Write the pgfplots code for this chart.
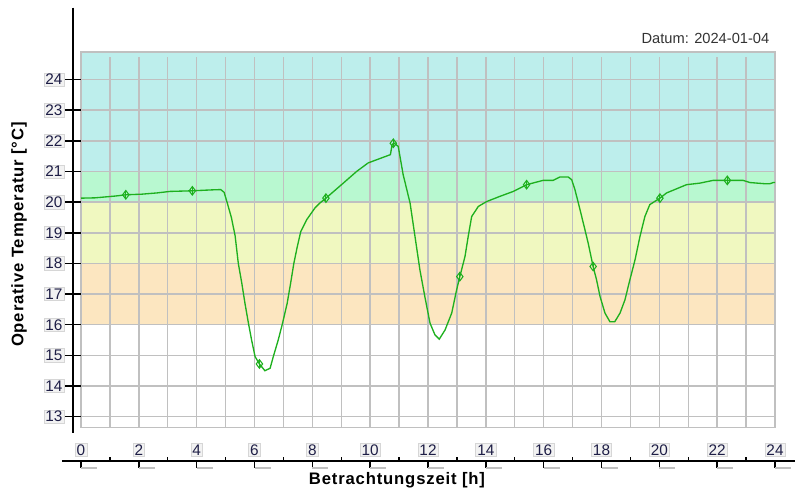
\documentclass[border=0pt]{standalone}
\usepackage{fontspec}
\setmainfont{Liberation Sans}
\newfontfamily\labelfont[LetterSpace=5]{Liberation Sans}
\usepackage{pgfplots}
\pgfplotsset{compat=1.18}
\definecolor{bandcyan}{RGB}{189,238,236}
\definecolor{bandgreen}{RGB}{184,248,208}
\definecolor{bandyellow}{RGB}{240,248,192}
\definecolor{bandorange}{RGB}{252,230,192}
\definecolor{gridgray}{RGB}{192,192,192}
\definecolor{curvegreen}{RGB}{30,176,30}
\definecolor{ticknavy}{RGB}{30,30,70}
\definecolor{boxgray}{RGB}{214,214,214}
\definecolor{boxfill}{RGB}{242,242,242}
\begin{document}
\begin{tikzpicture}
\begin{axis}[
  set layers,
  at={(60.75pt,-320.78pt)}, anchor=south west,
  scale only axis,
  width=520.5pt, height=281.8pt,
  xmin=0, xmax=24, ymin=12.64, ymax=24.9,
  xtick={0,2,...,24}, minor xtick={1,3,...,23},
  ytick={13,...,24},
  grid=both,
  major grid style={gridgray, line width=1.1pt},
  minor grid style={gridgray, line width=1.1pt},
  major tick length=0pt, minor tick length=0pt,
  axis line style={gridgray, line width=1.1pt},
  clip=false,
  /pgf/number format/assume math mode=true,
  ticklabel style={font=\fontsize{11.5}{13}\selectfont, text=ticknavy, fill=boxfill, draw=boxgray, inner xsep=1.2pt, inner ysep=1pt},
  yticklabel style={anchor=east, xshift=-12.5pt},
  xticklabel style={anchor=center, yshift=-16.7pt},
]
\addplot[on layer=axis background, fill=bandcyan, draw=none] coordinates {(0,21) (24,21) (24,24.9) (0,24.9)} -- cycle;
\addplot[on layer=axis background, fill=bandgreen, draw=none] coordinates {(0,20) (24,20) (24,21) (0,21)} -- cycle;
\addplot[on layer=axis background, fill=bandyellow, draw=none] coordinates {(0,18) (24,18) (24,20) (0,20)} -- cycle;
\addplot[on layer=axis background, fill=bandorange, draw=none] coordinates {(0,16) (24,16) (24,18) (0,18)} -- cycle;
% strip at the top where the vertical grid lines do not reach
\addplot[on layer=axis ticks, fill=bandcyan, draw=none] coordinates {(0.02,24.72) (23.98,24.72) (23.98,24.9) (0.02,24.9)} -- cycle;

\addplot[curvegreen, line width=1pt, mark=none] coordinates {
(0,20.13) (0.48,20.14) (1.2,20.2) (1.55,20.24) (2.1,20.26) (2.62,20.30) (3.08,20.35) (3.85,20.37) (4.52,20.40) (4.83,20.41)
(4.95,20.32) (5.05,20.0) (5.2,19.5) (5.33,18.9) (5.44,18.0) (5.56,17.36) (5.67,16.7) (5.79,16.05) (5.9,15.5) (6.02,14.96)
(6.17,14.72) (6.36,14.5) (6.54,14.58) (6.65,14.96) (6.82,15.5) (6.97,16.05) (7.13,16.7) (7.25,17.36) (7.36,18.0) (7.48,18.55)
(7.6,19.04) (7.8,19.42) (8.09,19.81) (8.26,19.97) (8.47,20.13) (9.07,20.62) (9.53,21.0) (9.93,21.28) (10.7,21.55) (10.76,21.88)
(10.82,21.93) (10.97,21.82) (11.14,20.9) (11.38,19.97) (11.55,18.88) (11.72,17.79) (11.89,16.92) (12.07,16.05) (12.24,15.67) (12.39,15.53)
(12.59,15.83) (12.82,16.38) (12.99,17.14) (13.1,17.57) (13.28,18.23) (13.39,18.88) (13.51,19.53) (13.74,19.86) (14.03,20.02) (14.49,20.19)
(14.95,20.35) (15.41,20.57) (15.98,20.71) (16.33,20.71) (16.56,20.82) (16.85,20.82) (16.97,20.73) (17.08,20.41) (17.2,19.97) (17.37,19.32)
(17.54,18.66) (17.71,17.9) (17.83,17.46) (17.95,16.92) (18.12,16.38) (18.29,16.1) (18.46,16.1) (18.64,16.38) (18.81,16.81) (18.98,17.46)
(19.16,18.12) (19.33,18.88) (19.5,19.53) (19.67,19.92) (20.02,20.13) (20.25,20.3) (20.94,20.57) (21.4,20.62) (21.86,20.71) (22.35,20.71)
(22.9,20.71) (23.13,20.64) (23.65,20.6) (23.82,20.6) (23.94,20.64) (24,20.64)
};
\addplot[curvegreen, only marks, mark=diamond, mark size=3.2pt, mark options={line width=0.8pt, fill=none}] coordinates {
(1.55,20.24) (3.85,20.37) (6.17,14.72) (8.47,20.13) (10.80,21.92) (13.10,17.57) (15.41,20.57) (17.71,17.9) (20.02,20.13) (22.35,20.71)
};
\addplot[curvegreen, only marks, mark=|, mark size=3.2pt, mark options={line width=0.8pt}] coordinates {
(1.55,20.24) (3.85,20.37) (6.17,14.72) (8.47,20.13) (10.80,21.92) (13.10,17.57) (15.41,20.57) (17.71,17.9) (20.02,20.13) (22.35,20.71)
};

% separate black axis lines
\draw[black, line width=1.1pt] (axis cs:-0.277,26.35) -- (axis cs:-0.277,12.46);
\pgfplotsinvokeforeach{13,...,24}{\draw[black, line width=1.1pt] (axis cs:-0.553,#1) -- (axis cs:0,#1);}
\draw[black, line width=1.1pt] (axis cs:-0.66,11.56) -- (axis cs:24.69,11.56);
\pgfplotsinvokeforeach{0,2,...,24}{
  \draw[black, line width=1.1pt] (axis cs:#1,11.56) -- (axis cs:#1,11.33);
  \draw[gridgray, line width=1.1pt] (axis cs:#1,11.33) -- ++(12pt,0pt);
}
\pgfplotsinvokeforeach{1,3,...,23}{\draw[black, line width=1.1pt] (axis cs:#1,11.56) -- (axis cs:#1,11.69);}
\end{axis}
\begin{scope}[x=0.75pt,y=-0.75pt]
\node[anchor=base east, font=\fontsize{11}{13}\selectfont, text=black!80] at (774,43.3) {Datum: 2024-01-04};
\node[anchor=base, font=\labelfont\bfseries\fontsize{12.5}{14}\selectfont] at (397,484) {Betrachtungszeit [h]};
\node[rotate=90, font=\labelfont\bfseries\fontsize{12.5}{14}\selectfont] at (19,234.5) {Operative Temperatur [°C]};
\pgfresetboundingbox
\useasboundingbox (0,0) rectangle (795,491);
\end{scope}
\end{tikzpicture}
\end{document}
